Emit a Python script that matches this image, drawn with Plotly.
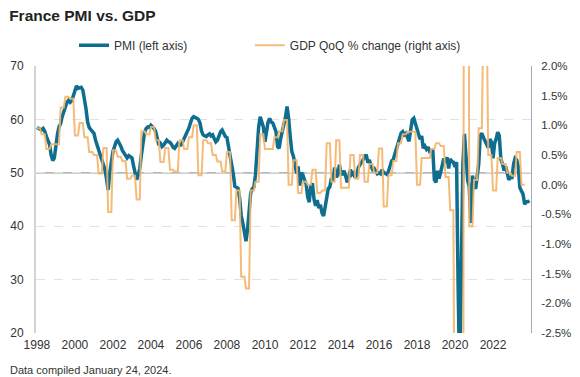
import plotly.graph_objects as go
import pandas as pd

# France composite PMI, monthly from Jan 1998 (left axis)
pmi_values = [
    58.5, 58.3, 58.1, 58.0, 58.3, 57.8, 56.8, 56.0, 55.3, 53.3, 52.3, 52.8,   # 1998
    55.5, 57.3, 58.6, 59.2, 60.5, 61.6, 62.5, 63.2, 63.6, 63.2, 63.5, 64.3,   # 1999
    65.5, 66.3, 65.8, 65.9, 66.0, 65.5, 64.0, 62.0, 59.5, 58.5, 58.1, 57.8,   # 2000
    57.4, 56.1, 55.2, 54.0, 53.0, 52.3, 51.3, 50.6, 48.8, 46.8, 50.0, 52.5,   # 2001
    54.0, 54.9, 55.8, 56.1, 55.6, 55.0, 54.2, 53.7, 53.2, 52.8, 53.2, 53.0,   # 2002
    52.8, 51.3, 50.0, 48.7, 49.5, 50.8, 53.3, 55.5, 57.6, 58.3, 58.6, 58.5,   # 2003
    58.9, 58.6, 58.3, 57.7, 56.1, 55.2, 55.5, 54.9, 55.2, 55.8, 56.1, 55.8,   # 2004
    55.7, 55.3, 54.8, 54.6, 55.2, 55.5, 55.2, 55.2, 55.8, 56.4, 57.1, 57.7,   # 2005
    58.4, 59.4, 60.2, 60.5, 60.4, 60.2, 60.0, 59.3, 57.8, 57.1, 56.9, 56.8,   # 2006
    57.1, 57.3, 56.9, 57.1, 56.4, 55.8, 56.1, 57.1, 57.7, 58.0, 57.4, 56.8,   # 2007
    56.6, 55.0, 53.5, 51.5, 49.8, 47.5, 47.2, 47.1, 45.2, 42.0, 40.6, 38.5,   # 2008
    37.2, 39.5, 43.5, 46.2, 47.0, 47.3, 49.5, 54.5, 58.5, 60.5, 59.5, 58.6,   # 2009
    55.8, 57.5, 59.5, 60.2, 59.5, 59.3, 58.6, 57.7, 54.9, 54.6, 56.5, 57.8,   # 2010
    58.6, 60.5, 62.4, 60.2, 56.8, 54.0, 53.1, 51.5, 49.9, 51.2, 47.6, 50.0,   # 2011
    49.6, 48.6, 48.0, 45.5, 44.5, 47.6, 48.0, 45.0, 43.8, 44.9, 43.4, 44.0,   # 2012
    42.5, 41.9, 43.5, 45.0, 47.0, 47.4, 49.0, 48.5, 51.0, 49.2, 49.6, 51.5,   # 2013
    50.0, 49.6, 50.4, 49.4, 48.2, 49.1, 50.6, 49.7, 50.0, 49.1, 49.6, 51.0,   # 2014
    51.5, 52.2, 52.4, 53.1, 53.4, 51.9, 52.4, 51.3, 50.6, 50.8, 50.3, 49.8,   # 2015
    50.0, 49.8, 50.6, 50.0, 49.9, 49.7, 50.3, 51.6, 52.2, 52.5, 53.7, 54.6,   # 2016
    55.5, 56.5, 57.4, 57.7, 57.1, 57.4, 56.8, 55.9, 58.0, 59.9, 60.2, 59.2,   # 2017
    58.4, 57.3, 56.3, 56.9, 54.6, 55.0, 54.4, 54.8, 54.0, 54.1, 54.2, 48.7,   # 2018
    48.2, 50.4, 48.9, 50.1, 51.2, 52.7, 51.9, 52.9, 50.8, 52.6, 52.1, 52.0,   # 2019
    51.1, 52.0, 28.9, 11.1, 32.1, 51.7, 57.3, 51.6, 48.5, 47.5, 40.6, 49.5,   # 2020
    47.7, 47.0, 50.0, 51.6, 57.0, 57.4, 56.6, 55.9, 55.3, 54.7, 56.3, 55.8,   # 2021
    52.7, 55.5, 56.3, 57.6, 57.0, 52.5, 51.7, 50.4, 51.2, 50.2, 48.7, 49.1,   # 2022
    49.1, 51.7, 52.7, 52.4, 51.2, 47.2, 46.6, 46.0, 44.1, 44.6, 44.6, 44.8,   # 2023
]

# GDP QoQ % change, quarterly from 1998 Q1 (right axis)
gdp_quarterly = [
    0.95, 0.85, 0.60, 0.68,    # 1998
    0.68, 1.30, 1.48, 1.45,    # 1999
    0.83, 1.04, 0.80, 0.55,    # 2000
    0.50, 0.19, 0.62, -0.46,   # 2001
    0.58, 0.47, 0.40, 0.10,    # 2002
    0.15, -0.25, 0.90, 0.85,   # 2003
    0.97, 0.75, 0.38, 0.62,    # 2004
    0.25, 0.22, 0.75, 0.60,    # 2005
    0.80, 1.00, 0.16, 0.75,    # 2006
    0.70, 0.50, 0.39, 0.22,    # 2007
    0.55, -0.60, -0.10, -1.55, # 2008
    -1.75, -0.10, 0.05, 0.85,  # 2009
    0.60, 0.60, 0.80, 0.90,    # 2010
    1.09, 0.00, 0.41, -0.14,   # 2011
    0.05, 0.00, 0.25, -0.14,   # 2012
    -0.10, 0.70, 0.05, 0.75,   # 2013
    -0.05, -0.05, 0.50, 0.10,  # 2014
    0.50, 0.05, 0.35, 0.20,    # 2015
    0.61, -0.37, 0.16, 0.40,   # 2016
    0.70, 0.85, 0.89, 0.89,    # 2017
    0.00, 0.45, 0.45, 0.60,    # 2018
    0.70, 0.65, 0.13, -0.43,   # 2019
    -5.90, -13.50, 18.50, -0.70,  # 2020
    0.08, 0.95, 3.00, 0.50,    # 2021
    -0.10, 0.45, 0.35, 0.20,   # 2022
    0.15, 0.55, 0.00,          # 2023
]

x_tick_years = ["1998", "2000", "2002", "2004", "2006", "2008", "2010", "2012",
                "2014", "2016", "2018", "2020", "2022"]
left_ticks = [20, 30, 40, 50, 60, 70]
right_tick_values = [-2.5, -2.0, -1.5, -1.0, -0.5, 0.0, 0.5, 1.0, 1.5, 2.0]
right_tick_labels = ["-2.5%", "-2.0%", "-1.5%", "-1.0%", "-0.5%", "0.0%",
                     "0.5%", "1.0%", "1.5%", "2.0%"]

title_text = "France PMI vs. GDP"
source_text = "Data compiled January 24, 2024."

months = pd.date_range("1998-01-01", periods=len(pmi_values), freq="MS")
# each quarter's growth is shown for its three months, as in the original
gdp_months = pd.date_range("1998-01-01", periods=3 * len(gdp_quarterly), freq="MS")
gdp_monthly = [v for v in gdp_quarterly for _ in range(3)]

FONT = "Liberation Sans, Arial, sans-serif"
TEAL = "#0F6E8F"
ORANGE = "rgba(244,180,105,0.9)"

fig = go.Figure()
fig.add_trace(go.Scatter(
    x=months, y=pmi_values, name="PMI (left axis)", mode="lines",
    line=dict(color=TEAL, width=3.5), yaxis="y", legend="legend"))
fig.add_trace(go.Scatter(
    x=gdp_months, y=gdp_monthly, name="GDP QoQ % change (right axis)", mode="lines",
    line=dict(color=ORANGE, width=2), yaxis="y2", legend="legend2"))

fig.add_shape(type="line", xref="paper", yref="y", x0=0, x1=1, y0=50, y1=50,
              line=dict(color="#9e9e9e", width=1.3), layer="below")

legend_style = dict(orientation="h", xanchor="left", yanchor="middle", y=1.078,
                    font=dict(size=12, color="#333333"), bgcolor="rgba(0,0,0,0)",
                    itemwidth=30)

# the page body adds an 8px margin, so the figure is 8px smaller than the window
fig.update_layout(
    width=572, height=369,
    margin=dict(l=28, r=49, t=58, b=44, autoexpand=False),
    paper_bgcolor="white", plot_bgcolor="white",
    font=dict(family=FONT, size=12, color="#333333"),
    title=dict(text="<b>" + title_text + "</b>", x=0.002, xanchor="left",
               y=0.98, yanchor="middle", font=dict(size=15.5, color="#222222")),
    showlegend=True,
    legend=dict(x=0.0768, **legend_style),
    legend2=dict(x=0.432, **legend_style),
    xaxis=dict(type="date", range=["1997-12-14", "2024-01-01"], automargin=False,
               tickvals=[y + "-01-01" for y in x_tick_years], ticktext=x_tick_years,
               showgrid=False, zeroline=False, showline=False, ticks="",
               ticklabelstandoff=3, tickfont=dict(size=12, color="#333333")),
    yaxis=dict(range=[20, 70], tickvals=left_ticks, showgrid=True, automargin=False,
               gridcolor="#e2e2e2", griddash="dash", gridwidth=1,
               zeroline=False, showline=True, linecolor="#d4d4d4", linewidth=2,
               ticks="", ticklabelstandoff=8, tickfont=dict(size=12, color="#333333")),
    yaxis2=dict(range=[-2.5, 2.0], overlaying="y", side="right", automargin=False,
                tickvals=right_tick_values, ticktext=right_tick_labels,
                showgrid=False, zeroline=False, showline=True,
                linecolor="#a8a8a8", linewidth=1, ticks="", ticklabelstandoff=7,
                tickfont=dict(size=11.5, color="#333333")),
    annotations=[dict(text=source_text, xref="paper", yref="paper",
                      x=-0.056, y=-0.138, xanchor="left", yanchor="middle",
                      showarrow=False, font=dict(size=11, color="#333333"))],
)

fig.write_html("out.html")
